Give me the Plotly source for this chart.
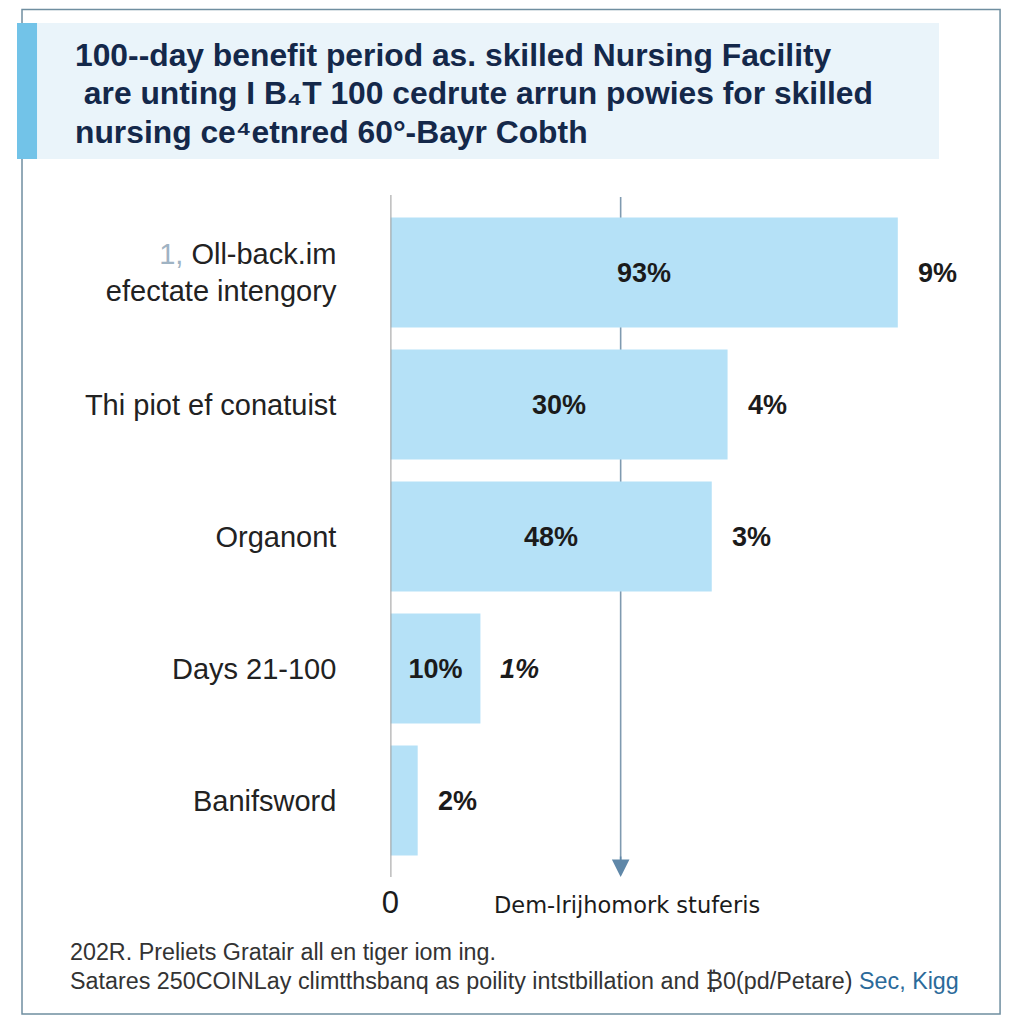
import plotly.graph_objects as go

categories = ["cat1", "cat2", "cat3", "cat4", "cat5"]
category_labels = [
    "<span style='color:#9fb3c3'>1, </span>Oll-back.im<br>efectate intengory",
    "Thi piot ef conatuist",
    "Organont",
    "Days 21-100",
    "Banifsword",
]
values = [93.0, 61.8, 58.9, 16.5, 5.0]
inside_labels = ["93%", "30%", "48%", "10%", ""]
outside_labels = ["9%", "4%", "3%", "<i>1%</i>", "2%"]

title_lines = [
    "100--day benefit period as. skilled Nursing Facility",
    " are unting I B\u2084T 100 cedrute arrun powies for skilled",
    "nursing ce\u2074etnred 60\u00b0-Bayr Cobth",
]
footer_lines = [
    "202R. Preliets Gratair all en tiger iom ing.",
    "Satares 250COINLay climtthsbanq as poility intstbillation and \u20bf0(pd/Petare) "
    "<span style='color:#2b6a9a'>Sec, Kigg</span>",
]
axis_zero_label = "0"
x_title = "Dem-lrijhomork stuferis"

# figure sized to fit the window inside the default page margin
W = H = 1008
def px(x):
    return max(0.0, min(1.0, ((x - 17) / 0.99) / W))
def py(y):
    return max(0.0, min(1.0, 1 - (y - 8) / H))

BAR = "#b5e1f7"
DARK = "#1b1b1b"
BODY_FONT = "Liberation Sans, Arial, sans-serif"

fig = go.Figure()
fig.add_trace(go.Bar(
    y=categories, x=values, orientation="h",
    marker=dict(color=BAR, line=dict(width=0)),
    text=[f"<b>{t}</b>" if t else "" for t in inside_labels],
    textposition="inside", insidetextanchor="middle",
    textfont=dict(family=BODY_FONT, size=27, color=DARK),
    hoverinfo="skip", showlegend=False,
))

annotations = []
for c, lab in zip(categories, outside_labels):
    v = values[categories.index(c)]
    annotations.append(dict(
        x=v, y=c, xref="x", yref="y", text=f"<b>{lab}</b>", showarrow=False,
        xanchor="left", xshift=18,
        font=dict(family=BODY_FONT, size=27, color=DARK),
    ))

title_y = [55, 93, 132]
for t, yy in zip(title_lines, title_y):
    annotations.append(dict(
        x=px(73), y=py(yy), xref="paper", yref="paper", text=f"<b>{t}</b>",
        showarrow=False, xanchor="left", yanchor="middle",
        font=dict(family=BODY_FONT, size=31.8, color="#14284a"),
    ))

footer_y = [952, 981]
for t, yy in zip(footer_lines, footer_y):
    annotations.append(dict(
        x=px(68), y=py(yy), xref="paper", yref="paper", text=t,
        showarrow=False, xanchor="left", yanchor="middle",
        font=dict(family=BODY_FONT, size=23.3, color="#333333"),
    ))

annotations.append(dict(
    x=px(626), y=py(905), xref="paper", yref="paper", text=x_title,
    showarrow=False, xanchor="center", yanchor="middle",
    font=dict(family="DejaVu Sans, sans-serif", size=22.5, color=DARK),
))

# arrow head of the reference line
annotations.append(dict(
    x=px(620), y=py(877), xref="paper", yref="paper", text="",
    showarrow=True, ax=0, ay=-22, axref="pixel", ayref="pixel",
    arrowhead=2, arrowsize=2.2, arrowwidth=1.6, arrowcolor="#5f87a8",
))

shapes = [
    # outer frame
    dict(type="rect", xref="paper", yref="paper", x0=px(22), x1=px(999),
         y0=py(1014), y1=py(9.5), line=dict(color="#6f8ea0", width=1.5),
         fillcolor="rgba(0,0,0,0)", layer="below"),
    # title box
    dict(type="rect", xref="paper", yref="paper", x0=px(37), x1=px(938),
         y0=py(159), y1=py(23), line=dict(width=0), fillcolor="#eaf4fa",
         layer="below"),
    # accent bar
    dict(type="rect", xref="paper", yref="paper", x0=px(0), x1=px(37),
         y0=py(159), y1=py(23), line=dict(width=0), fillcolor="#72c3e8",
         layer="below"),
    # reference line (behind bars)
    dict(type="line", xref="paper", yref="paper", x0=px(620), x1=px(620),
         y0=py(866), y1=py(197), line=dict(color="#7f9ab0", width=1.6),
         layer="below"),
    # zero axis line
    dict(type="line", xref="x", yref="paper", x0=0, x1=0,
         y0=py(877), y1=py(195), line=dict(color="#9a9a9a", width=2)),
]

fig.update_layout(
    width=W, height=H, autosize=False,
    margin=dict(l=0, r=0, t=0, b=0),
    paper_bgcolor="white", plot_bgcolor="rgba(0,0,0,0)",
    bargap=0.167,
    annotations=annotations, shapes=shapes,
    xaxis=dict(domain=[px(390), px(935)], range=[0, 100],
               tickvals=[0], ticktext=[axis_zero_label],
               tickfont=dict(family=BODY_FONT, size=31, color=DARK),
               showgrid=False, zeroline=False, showline=False, ticks="",
               ticklabelstandoff=14, fixedrange=True),
    yaxis=dict(domain=[py(866.5), py(206.5)], autorange="reversed",
               tickvals=categories, ticktext=category_labels,
               tickfont=dict(family=BODY_FONT, size=29, color="#222222"),
               showgrid=False, zeroline=False, showline=False, ticks="",
               ticklabelstandoff=53, fixedrange=True),
    font=dict(family=BODY_FONT),
)

fig.write_html("out.html")
